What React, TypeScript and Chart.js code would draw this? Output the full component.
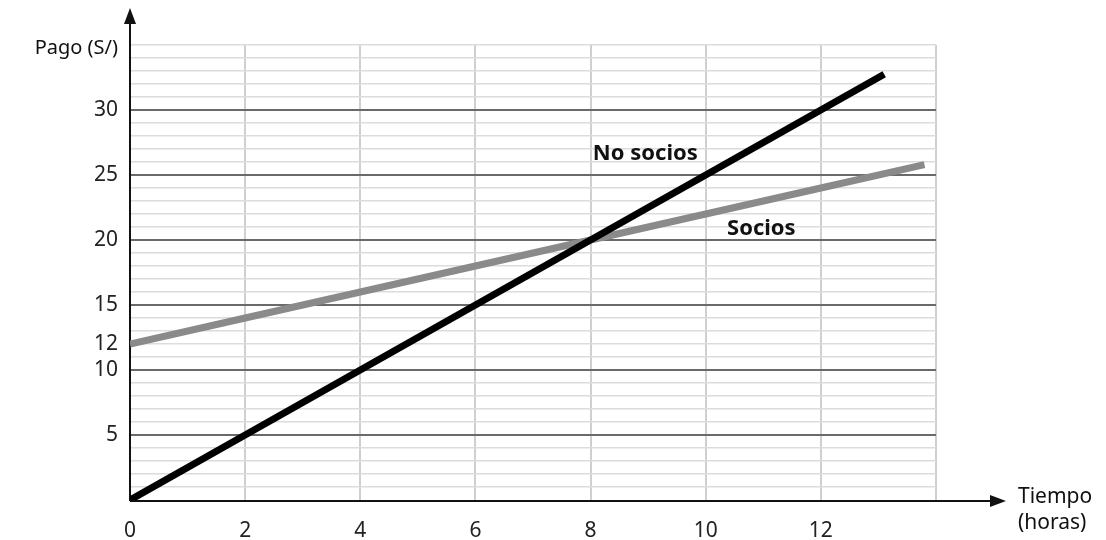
import React, { useEffect, useRef } from "react";
import { Chart, registerables } from "chart.js";

Chart.register(...registerables);

const noSociosX = [0, 2, 4, 6, 8, 10, 12, 13.1];
const noSociosY = [0, 5, 10, 15, 20, 25, 30, 32.75];
const sociosX = [0, 2, 4, 6, 8, 10, 12, 13.8];
const sociosY = [12, 14, 16, 18, 20, 22, 24, 25.8];
const yTickLabels = [5, 10, 12, 15, 20, 25, 30];
const xTickLabels = [0, 2, 4, 6, 8, 10, 12];
const seriesNames = ["No socios", "Socios"];

const FONT = "'Noto Sans', sans-serif";

const decor = {
  id: "decor",
  beforeDatasetsDraw(chart: any) {
    const { ctx, chartArea } = chart;
    const { left, right, bottom } = chartArea;
    ctx.save();
    ctx.strokeStyle = "#111";
    ctx.fillStyle = "#111";
    ctx.lineWidth = 2;
    ctx.beginPath();
    ctx.moveTo(left, bottom + 1);
    ctx.lineTo(left, 22);
    ctx.stroke();
    ctx.beginPath();
    ctx.moveTo(left, 8);
    ctx.lineTo(left - 6, 24);
    ctx.lineTo(left + 6, 24);
    ctx.closePath();
    ctx.fill();
    ctx.beginPath();
    ctx.moveTo(left, bottom + 1);
    ctx.lineTo(right + 58, bottom + 1);
    ctx.stroke();
    ctx.beginPath();
    ctx.moveTo(right + 70, bottom + 1);
    ctx.lineTo(right + 54, bottom - 5);
    ctx.lineTo(right + 54, bottom + 7);
    ctx.closePath();
    ctx.fill();
    ctx.restore();
  },
  afterDatasetsDraw(chart: any) {
    const { ctx, scales } = chart;
    const x = scales.x;
    const y = scales.y;
    ctx.save();
    ctx.fillStyle = "#111";
    ctx.textBaseline = "middle";
    ctx.font = `bold 22px ${FONT}`;
    ctx.textAlign = "left";
    ctx.fillText(seriesNames[0], x.getPixelForValue(8.04), y.getPixelForValue(26.6));
    ctx.fillText(seriesNames[1], x.getPixelForValue(10.37), y.getPixelForValue(20.9));
    ctx.font = `20px ${FONT}`;
    ctx.textAlign = "right";
    ctx.fillText("Pago (S/)", 118, 48);
    ctx.textAlign = "left";
    ctx.font = `21px ${FONT}`;
    ctx.fillText("Tiempo", 1018, 497);
    ctx.fillText("(horas)", 1018, 523);
    ctx.restore();
  },
};

export default function App() {
  const ref = useRef<HTMLCanvasElement | null>(null);
  useEffect(() => {
    document.body.style.margin = "0";
    const canvas = ref.current!;
    const chart = new Chart(canvas, {
      type: "scatter",
      data: {
        datasets: [
          {
            label: seriesNames[0],
            data: noSociosX.map((v, i) => ({ x: v, y: noSociosY[i] })),
            showLine: true,
            borderColor: "#000000",
            borderWidth: 7,
            pointRadius: 0,
            borderCapStyle: "butt",
          },
          {
            label: seriesNames[1],
            data: sociosX.map((v, i) => ({ x: v, y: sociosY[i] })),
            showLine: true,
            borderColor: "#8a8a8a",
            borderWidth: 7,
            pointRadius: 0,
            borderCapStyle: "butt",
          },
        ],
      },
      options: {
        animation: false,
        responsive: false,
        layout: { padding: { left: 0, top: 45, right: 170, bottom: 0 } },
        plugins: { legend: { display: false }, tooltip: { enabled: false } },
        scales: {
          x: {
            type: "linear",
            min: 0,
            max: 14,
            border: { display: false },
            afterFit: (s: any) => {
              s.height = 40;
            },
            ticks: {
              stepSize: 2,
              padding: 18,
              color: "#222",
              font: { family: FONT, size: 21 },
              callback: (v: any) => (xTickLabels.includes(v) ? String(v) : ""),
            },
            grid: {
              drawTicks: false,
              color: (c: any) => (c.tick && c.tick.value === 0 ? "rgba(0,0,0,0)" : "#cfcfcf"),
              lineWidth: 2,
            },
          },
          y: {
            type: "linear",
            min: 0,
            max: 35,
            border: { display: false },
            afterFit: (s: any) => {
              s.width = 130;
            },
            ticks: {
              stepSize: 1,
              padding: 12,
              autoSkip: false,
              color: "#222",
              font: { family: FONT, size: 21 },
              callback: (v: any) => (yTickLabels.includes(v) ? String(v) : ""),
            },
            grid: {
              drawTicks: false,
              color: (c: any) => {
                const v = c.tick ? c.tick.value : -1;
                if (v === 0) return "rgba(0,0,0,0)";
                if (v % 5 === 0 && v < 35) return "#6a6a6a";
                return "#dcdcdc";
              },
              lineWidth: (c: any) => {
                const v = c.tick ? c.tick.value : -1;
                return v % 5 === 0 && v < 35 ? 2 : 1.5;
              },
            },
          },
        },
      },
      plugins: [decor],
    } as any);
    return () => chart.destroy();
  }, []);
  return <canvas ref={ref} width={1106} height={540} style={{ display: "block" }} />;
}
